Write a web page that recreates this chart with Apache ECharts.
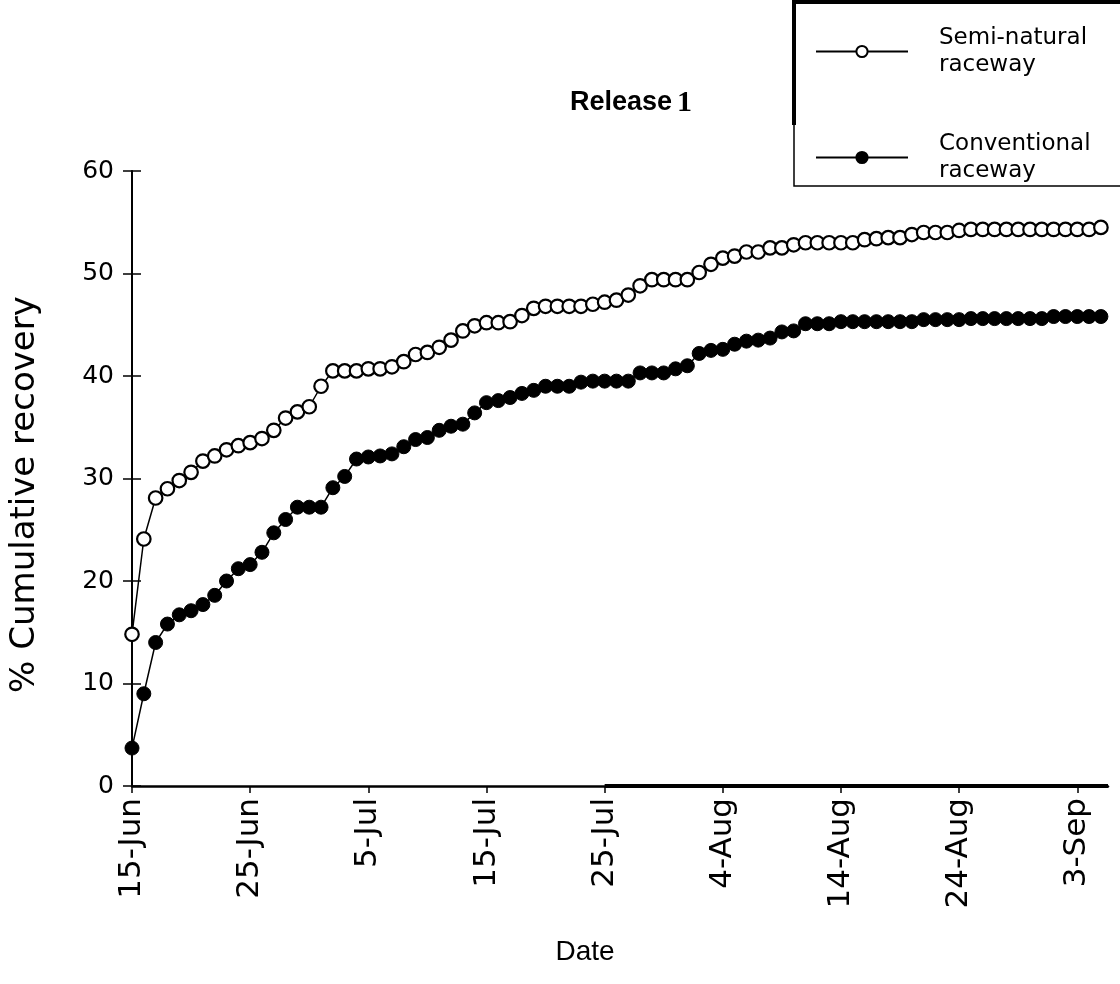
<!DOCTYPE html>
<html>
<head>
<meta charset="utf-8">
<title>Release 1 – cumulative recovery</title>
<script src="https://cdn.jsdelivr.net/npm/echarts@6/dist/echarts.min.js"></script>
<style>
  html, body { margin: 0; padding: 0; background: #fff; }
  #chart { width: 1120px; height: 984px; }
</style>
</head>
<body>
<div id="chart"></div>
<script>
// Daily observations starting 15 June (index = days since 15-Jun)
const tickLabels = ['15-Jun', '25-Jun', '5-Jul', '15-Jul', '25-Jul', '4-Aug', '14-Aug', '24-Aug', '3-Sep'];

// % cumulative recovery, semi-natural raceway
const semiNatural = [
  14.8, 24.1, 28.1, 29.0, 29.8, 30.6, 31.7, 32.2, 32.8, 33.2,
  33.5, 33.9, 34.7, 35.9, 36.5, 37.0, 39.0, 40.5, 40.5, 40.5,
  40.7, 40.7, 40.9, 41.4, 42.1, 42.3, 42.8, 43.5, 44.4, 44.9,
  45.2, 45.2, 45.3, 45.9, 46.6, 46.8, 46.8, 46.8, 46.8, 47.0,
  47.2, 47.4, 47.9, 48.8, 49.4, 49.4, 49.4, 49.4, 50.1, 50.9,
  51.5, 51.7, 52.1, 52.1, 52.5, 52.5, 52.8, 53.0, 53.0, 53.0,
  53.0, 53.0, 53.3, 53.4, 53.5, 53.5, 53.8, 54.0, 54.0, 54.0,
  54.2, 54.3, 54.3, 54.3, 54.3, 54.3, 54.3, 54.3, 54.3, 54.3,
  54.3, 54.3, 54.5
];

// % cumulative recovery, conventional raceway
const conventional = [
  3.7, 9.0, 14.0, 15.8, 16.7, 17.1, 17.7, 18.6, 20.0, 21.2,
  21.6, 22.8, 24.7, 26.0, 27.2, 27.2, 27.2, 29.1, 30.2, 31.9,
  32.1, 32.2, 32.4, 33.1, 33.8, 34.0, 34.7, 35.1, 35.3, 36.4,
  37.4, 37.6, 37.9, 38.3, 38.6, 39.0, 39.0, 39.0, 39.4, 39.5,
  39.5, 39.5, 39.5, 40.3, 40.3, 40.3, 40.7, 41.0, 42.2, 42.5,
  42.6, 43.1, 43.4, 43.5, 43.7, 44.3, 44.4, 45.1, 45.1, 45.1,
  45.3, 45.3, 45.3, 45.3, 45.3, 45.3, 45.3, 45.5, 45.5, 45.5,
  45.5, 45.6, 45.6, 45.6, 45.6, 45.6, 45.6, 45.6, 45.8, 45.8,
  45.8, 45.8, 45.8
];

const seriesNames = ['Semi-natural\nraceway', 'Conventional\nraceway'];

const tickDays = tickLabels.map((_, i) => i * 10);
const toPairs = arr => arr.map((v, i) => [i, v]);

const SANS = '"DejaVu Sans", "Liberation Sans", sans-serif';
const ARIAL = '"Liberation Sans", Arial, sans-serif';

const X_MAX = 82.6;

const chart = echarts.init(document.getElementById('chart'), null, { renderer: 'canvas' });

const xBase = {
  type: 'value',
  min: 0,
  max: X_MAX,
  interval: 10,
  splitLine: { show: false }
};
const yBase = {
  type: 'value',
  min: 0,
  max: 60,
  interval: 10,
  splitLine: { show: false }
};

chart.setOption({
  animation: false,
  backgroundColor: '#ffffff',
  title: {
    text: '{a|Release} {b|1}',
    left: 626,
    top: 83,
    textAlign: 'center',
    textStyle: {
      rich: {
        a: { fontFamily: ARIAL, fontWeight: 'bold', fontSize: 27, color: '#000' },
        b: { fontFamily: '"Liberation Serif", "Times New Roman", serif', fontSize: 30, color: '#000' }
      }
    }
  },
  legend: {
    orient: 'vertical',
    left: 815,
    top: 11,
    padding: 0,
    itemGap: 25,
    itemWidth: 92,
    itemHeight: 14,
    data: seriesNames,
    textStyle: {
      fontFamily: SANS,
      fontSize: 23,
      color: '#000',
      lineHeight: 27,
      padding: [27, 0, 0, 26]
    }
  },
  graphic: [
    {
      type: 'polyline',
      shape: { points: [[794, 125], [794, 2], [1120, 2]] },
      style: { stroke: '#000', lineWidth: 4, fill: null }
    },
    {
      type: 'polyline',
      shape: { points: [[794, 125], [794, 186], [1120, 186]] },
      style: { stroke: '#000', lineWidth: 1.5, fill: null }
    }
  ],
  grid: { left: 130, right: 12, top: 171, bottom: 198 },
  xAxis: [
    Object.assign({}, xBase, {
      name: 'Date',
      nameLocation: 'middle',
      nameGap: 152,
      nameTextStyle: {
        fontFamily: ARIAL, fontSize: 28, color: '#000',
        padding: [0, 70, 0, 0]
      },
      axisLine: { show: true, lineStyle: { color: '#000', width: 2.5 } },
      axisTick: {
        show: true, inside: false, length: 7, customValues: tickDays,
        lineStyle: { color: '#000', width: 1.5 }
      },
      axisLabel: {
        show: true,
        customValues: tickDays,
        rotate: 90,
        margin: 12,
        fontFamily: SANS,
        fontSize: 31,
        color: '#000',
        formatter: v => tickLabels[Math.round(v / 10)] || ''
      }
    }),
    Object.assign({}, xBase, {
      axisLine: { show: false },
      axisTick: {
        show: true, inside: true, length: 7, customValues: tickDays,
        lineStyle: { color: '#000', width: 1.5 }
      },
      axisLabel: { show: false }
    })
  ],
  yAxis: [
    Object.assign({}, yBase, {
      name: '% Cumulative recovery',
      nameLocation: 'middle',
      nameGap: 90,
      nameTextStyle: {
        fontFamily: SANS, fontSize: 34, color: '#000',
        padding: [0, 32, 0, 0]
      },
      axisLine: { show: true, lineStyle: { color: '#000', width: 2 } },
      axisTick: { show: true, inside: false, length: 9, lineStyle: { color: '#000', width: 1.5 } },
      axisLabel: { margin: 18, fontFamily: SANS, fontSize: 25, color: '#000' }
    }),
    Object.assign({}, yBase, {
      position: 'left',
      axisLine: { show: false },
      axisTick: { show: true, inside: true, length: 9, lineStyle: { color: '#000', width: 1.5 } },
      axisLabel: { show: false }
    })
  ],
  series: [
    {
      name: seriesNames[0],
      type: 'line',
      data: toPairs(semiNatural),
      symbol: 'circle',
      symbolSize: 13.5,
      z: 3,
      lineStyle: { color: '#000', width: 1.5 },
      itemStyle: { color: '#fff', borderColor: '#000', borderWidth: 2.2 }
    },
    {
      name: seriesNames[1],
      type: 'line',
      data: toPairs(conventional),
      symbol: 'circle',
      symbolSize: 14,
      z: 2,
      lineStyle: { color: '#000', width: 1.5 },
      itemStyle: { color: '#000', borderColor: '#000', borderWidth: 1 },
      // heavier print of the date axis from 25-Jul onward
      markLine: {
        silent: true,
        symbol: 'none',
        label: { show: false },
        lineStyle: { color: '#000', width: 4, type: 'solid' },
        data: [[{ coord: [40, 0] }, { coord: [X_MAX, 0] }]]
      }
    }
  ]
});
</script>
</body>
</html>
